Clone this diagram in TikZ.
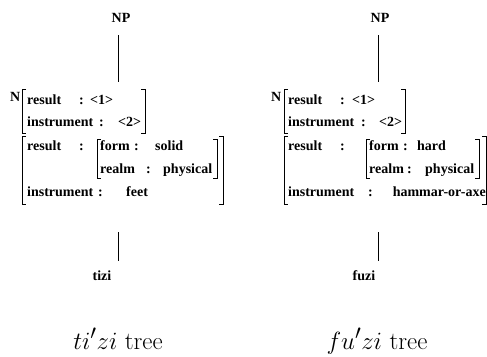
\documentclass[tikz,border=0pt]{standalone}
\usepackage{fontspec}
\newfontfamily\avmfont{Liberation Serif}

\tikzset{
  feat/.style={anchor=base west, inner sep=0pt, font=\avmfont\bfseries\fontsize{14}{16}\selectfont},
  cat/.style={anchor=base, inner sep=0pt, font=\avmfont\bfseries\fontsize{14}{16}\selectfont},
  stem/.style={line width=0.8pt},
  brk/.style={line width=0.8pt},
  caption/.style={anchor=base, inner sep=0pt, font=\Huge}
}

% square brackets: x, top y, bottom y
\newcommand\lbrk[3]{\draw[brk] (#1,#2) ++(4,0) -- (#1,#2) -- (#1,#3) -- ++(4,0);}
\newcommand\rbrk[3]{\draw[brk] (#1,#2) ++(-4,0) -- (#1,#2) -- (#1,#3) -- ++(-4,0);}

\begin{document}
\begin{tikzpicture}[x=1pt, y=-1pt]
    \useasboundingbox (0,0) rectangle (487,356);

    % Left: ti'zi tree
    \node[cat] (np1) at (121,23) {NP};
    \coordinate (top1) at (118,82);
    \draw[stem, shorten <=12pt] (np1.south -| top1) -- (top1);

    \node[feat] (n1) at (10,101) {N};
    \lbrk{22}{89}{133}
    \rbrk{145}{89}{133}
    \node[feat] (res1) at (27,104) {result};
    \node[feat] (col1) at (79,104) {:};
    \node[feat] (val1) at (90,104) {<1>};
    \node[feat] (ins1) at (27,126) {instrument};
    \node[feat] (col2) at (99,126) {:};
    \node[feat] (val2) at (118,126) {<2>};

    \lbrk{22}{136}{204}
    \rbrk{223}{136}{204}
    \node[feat] (res2) at (27,150) {result};
    \node[feat] (col3) at (79,150) {:};
    \lbrk{97}{139}{178}
    \rbrk{217}{139}{178}
    \node[feat] (form1) at (100,150) {form};
    \node[feat] (col4) at (134,150) {:};
    \node[feat] (solid) at (155,150) {solid};
    \node[feat] (realm1) at (100,173) {realm};
    \node[feat] (col5) at (146,173) {:};
    \node[feat] (phys1) at (163,173) {physical};
    \node[feat] (ins2) at (27,196) {instrument};
    \node[feat] (col6) at (98,196) {:};
    \node[feat] (feet) at (126,196) {feet};

    \coordinate (bot1) at (118,232);
    \node[cat] (tizi) at (102,280) {tizi};
    \draw[stem, shorten >=9pt] (bot1) -- (bot1 |- tizi.north);

    \node[caption] (cap1) at (118,349) {$ti'zi$ tree};

    % Right: fu'zi tree
    \node[cat] (np2) at (380,23) {NP};
    \coordinate (top2) at (378,82);
    \draw[stem, shorten <=12pt] (np2.south -| top2) -- (top2);

    \node[feat] (n2) at (271,101) {N};
    \lbrk{284}{89}{133}
    \rbrk{405}{89}{133}
    \node[feat] (res3) at (288,104) {result};
    \node[feat] (col7) at (340,104) {:};
    \node[feat] (val3) at (352,104) {<1>};
    \node[feat] (ins3) at (288,126) {instrument};
    \node[feat] (col8) at (361,126) {:};
    \node[feat] (val4) at (379,126) {<2>};

    \lbrk{284}{136}{204}
    \rbrk{486}{136}{204}
    \node[feat] (res4) at (288,150) {result};
    \node[feat] (col9) at (340,150) {:};
    \lbrk{366}{139}{178}
    \rbrk{479}{139}{178}
    \node[feat] (form2) at (369,150) {form};
    \node[feat] (col10) at (403,150) {:};
    \node[feat] (hard) at (417,150) {hard};
    \node[feat] (realm2) at (369,173) {realm};
    \node[feat] (col11) at (407,173) {:};
    \node[feat] (phys2) at (425,173) {physical};
    \node[feat] (ins4) at (288,196) {instrument};
    \node[feat] (col12) at (368,196) {:};
    \node[feat, anchor=base east] (axe) at (486,196) {hammar-or-axe};

    \coordinate (bot2) at (378,232);
    \node[cat] (fuzi) at (364,280) {fuzi};
    \draw[stem, shorten >=9pt] (bot2) -- (bot2 |- fuzi.north);

    \node[caption] (cap2) at (377,349) {$fu'zi$ tree};
\end{tikzpicture}
\end{document}
